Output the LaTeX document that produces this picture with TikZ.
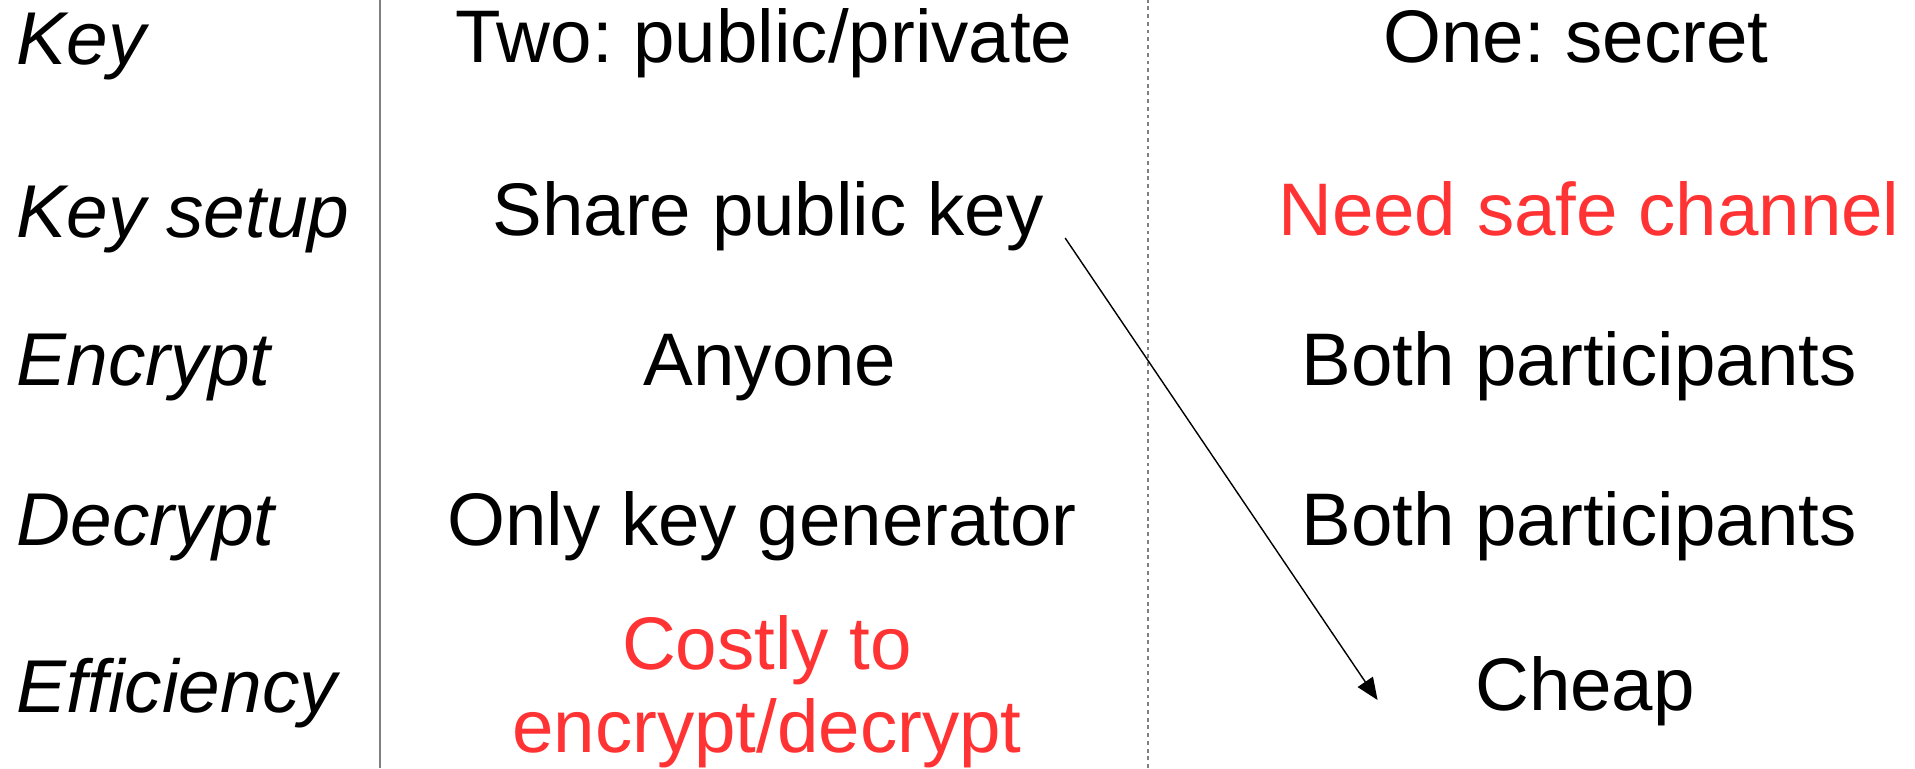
\documentclass[tikz,border=0pt]{standalone}
\usepackage{fontspec}
\setmainfont{Liberation Sans}
\usepackage{xcolor}
\usetikzlibrary{arrows,positioning}
\definecolor{alertred}{HTML}{FF3333}
\frenchspacing

\begin{document}
\begin{tikzpicture}[
    every node/.style={inner sep=0pt, font=\fontsize{21.2pt}{23.6pt}\selectfont},
    rowname/.style={anchor=base west, font=\fontsize{21.3pt}{23.6pt}\selectfont\itshape},
    cell/.style={anchor=base},
    alert/.style={text=alertred}]
  \useasboundingbox (0,0) rectangle (19.15,7.68);

  % Column separators
  \draw[line width=0.6pt, gray] (3.80,0) -- (3.80,7.68);
  \draw[line width=0.5pt, gray, dash pattern=on 1.1pt off 1.1pt] (11.48,0) -- (11.48,7.68);

  % Row names
  \node (key)[rowname] at (0.16,7.03) {Key};
  \node (setup)[rowname] at (0.16,5.30) {Key setup};
  \node (enc)[rowname] at (0.16,3.82) {Encrypt};
  \node (dec)[rowname] at (0.16,2.23) {Decrypt};
  \node (eff)[rowname] at (0.16,0.56) {Efficiency};

  % Public key column
  \node (two)[cell] at (7.64,7.05) {Two: public/private};
  \node (share)[cell] at (7.68,5.32) {Share public key};
  \node (anyone)[cell] at (7.70,3.82) {Anyone};
  \node (onlygen)[cell] at (7.62,2.23) {Only key generator};
  \node (costly)[cell, alert, align=center] at (7.67,0.16) {Costly to\\encrypt/decrypt};

  % Secret key column
  \node (one)[cell] at (15.76,7.05) {One: secret};
  \node (channel)[cell, alert] at (15.89,5.32) {Need safe channel};
  \node (bothenc)[cell] at (15.79,3.82) {Both participants};
  \node (bothdec)[cell] at (15.79,2.23) {Both participants};
  \node (cheap)[cell] at (15.85,0.58) {Cheap};

  % Arrow
  \draw[arrows=-triangle 45, line width=0.4pt] ([xshift=0.21cm, yshift=-0.02cm]share.base east) -- ([xshift=-0.97cm, yshift=0.10cm]cheap.base west);

\end{tikzpicture}
\end{document}
